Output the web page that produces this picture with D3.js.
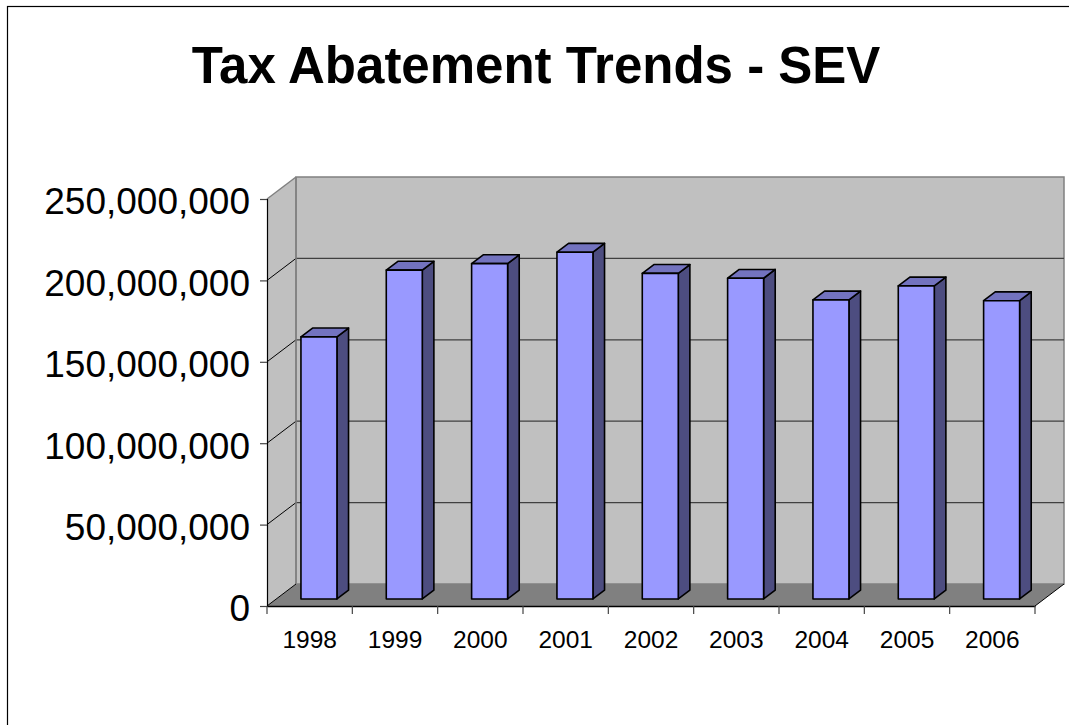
<!DOCTYPE html>
<html>
<head>
<meta charset="utf-8">
<script src="https://cdn.jsdelivr.net/npm/d3@7/dist/d3.min.js"></script>
<style>
  body { margin: 0; background: #fff; }
  svg { display: block; font-family: "Liberation Sans", Arial, sans-serif; }
</style>
</head>
<body>
<svg id="chart" width="1069" height="725"></svg>
<script>
// chart data
const years = ['1998', '1999', '2000', '2001', '2002', '2003', '2004', '2005', '2006']
const sev = [161000000, 202000000, 206000000, 213000000, 200000000, 197000000, 183700000, 192300000, 183200000]
const yTicks = [0, 50000000, 100000000, 150000000, 200000000, 250000000]

const svg = d3.select('#chart')

// frame round the slide
svg.append('rect')
    .attr('x', 7.5).attr('y', 6.5)
    .attr('width', 1200).attr('height', 900)
    .attr('fill', 'none').attr('stroke', '#000').attr('stroke-width', 1.2)

// title
svg.append('text')
    .attr('x', 536).attr('y', 83)
    .attr('text-anchor', 'middle')
    .attr('font-size', 51).attr('font-weight', 'bold')
    .text('Tax Abatement Trends - SEV')

// front plane scales
const x = d3.scaleBand().domain(years).range([267, 1035])
const y = d3.scaleLinear().domain([0, 250000000]).range([606, 199])

// depth of the 3d box
const DX = 29, DY = -22
const xL = x.range()[0], xR = x.range()[1]
const yT = y(250000000), yB = y(0)

const walls = svg.append('g')

// left side wall
walls.append('path')
    .attr('d', `M${xL},${yT}L${xL + DX},${yT + DY}L${xL + DX},${yB + DY}L${xL},${yB}Z`)
    .attr('fill', '#c0c0c0').attr('stroke', 'none')

// back wall
walls.append('rect')
    .attr('x', xL + DX).attr('y', yT + DY)
    .attr('width', xR - xL).attr('height', yB - yT)
    .attr('fill', '#c0c0c0').attr('stroke', '#808080').attr('stroke-width', 1.5)

// gridlines: diagonal on side wall + horizontal on back wall
const grid = walls.append('g')
grid.selectAll('line.diag')
    .data(yTicks.slice(1, -1))
    .join('line')
        .attr('class', 'diag')
        .attr('x1', xL).attr('y1', d => y(d))
        .attr('x2', xL + DX).attr('y2', d => y(d) + DY)
        .attr('stroke', '#000').attr('stroke-width', 1)
grid.selectAll('line.back')
    .data(yTicks.slice(1, -1))
    .join('line')
        .attr('class', 'back')
        .attr('x1', xL + DX).attr('y1', d => y(d) + DY)
        .attr('x2', xR + DX).attr('y2', d => y(d) + DY)
        .attr('stroke', '#404040').attr('stroke-width', 1.2)

// top edge of side wall and inner corner
walls.append('line')
    .attr('x1', xL).attr('y1', yT).attr('x2', xL + DX).attr('y2', yT + DY)
    .attr('stroke', '#808080').attr('stroke-width', 1.5)
walls.append('line')
    .attr('x1', xL + DX).attr('y1', yT + DY).attr('x2', xL + DX).attr('y2', yB + DY)
    .attr('stroke', '#808080').attr('stroke-width', 1.5)

// floor
walls.append('path')
    .attr('d', `M${xL},${yB}L${xR},${yB}L${xR + DX},${yB + DY}L${xL + DX},${yB + DY}Z`)
    .attr('fill', '#808080').attr('stroke', 'none')
walls.append('path')
    .attr('d', `M${xL},${yB}L${xL + DX},${yB + DY}M${xR},${yB}L${xR + DX},${yB + DY}`)
    .attr('stroke', '#000').attr('stroke-width', 1)

// bars
const barW = 36
const f0 = 0.32, f1 = 0.72   // depth of bar front and back faces
const bars = svg.append('g')
years.forEach((yr, i) => {
    const cx = x(yr) + x.bandwidth() / 2
    const x0 = cx - barW / 2 + DX * f0, x1 = x0 + barW
    const y0 = y(0) + DY * f0, yt = y(sev[i]) + DY * f0
    const ox = DX * (f1 - f0), oy = DY * (f1 - f0)
    const g = bars.append('g')
        .attr('stroke', '#000').attr('stroke-width', 1.6).attr('stroke-linejoin', 'round')
    // side
    g.append('path')
        .attr('d', `M${x1},${yt}L${x1 + ox},${yt + oy}L${x1 + ox},${y0 + oy}L${x1},${y0}Z`)
        .attr('fill', '#4d4d80')
    // top
    g.append('path')
        .attr('d', `M${x0},${yt}L${x0 + ox},${yt + oy}L${x1 + ox},${yt + oy}L${x1},${yt}Z`)
        .attr('fill', '#7373bf')
    // front
    g.append('rect')
        .attr('x', x0).attr('y', yt)
        .attr('width', barW).attr('height', y0 - yt)
        .attr('fill', '#9999ff')
})

// y axis
const yAxis = svg.append('g')
    .attr('transform', `translate(${xL},0)`)
    .call(d3.axisLeft(y).tickValues(yTicks).tickSize(7).tickPadding(10).tickFormat(d3.format(',')))
yAxis.select('.domain').attr('stroke', '#000').attr('stroke-width', 1.2)
yAxis.selectAll('.tick line').attr('stroke', '#444').attr('stroke-width', 1.2)
yAxis.selectAll('.tick text')
    .attr('font-size', 37).attr('fill', '#000')
    .attr('font-family', '"Liberation Sans", Arial, sans-serif')
    .attr('x', -17).attr('dy', '0.4em')

// x axis
const xAxis = svg.append('g')
    .attr('transform', `translate(0,${yB})`)
    .call(d3.axisBottom(x).tickSize(0).tickPadding(25))
xAxis.select('.domain').attr('stroke', '#000').attr('stroke-width', 1.5)
xAxis.selectAll('.tick text')
    .attr('font-size', 24.5).attr('fill', '#000')
    .attr('font-family', '"Liberation Sans", Arial, sans-serif')
// category separator ticks
xAxis.selectAll('line.sep')
    .data(d3.range(years.length + 1))
    .join('line')
        .attr('class', 'sep')
        .attr('x1', i => xL + i * x.step()).attr('x2', i => xL + i * x.step())
        .attr('y1', 0).attr('y2', 8)
        .attr('stroke', '#444').attr('stroke-width', 1.2)
</script>
</body>
</html>
